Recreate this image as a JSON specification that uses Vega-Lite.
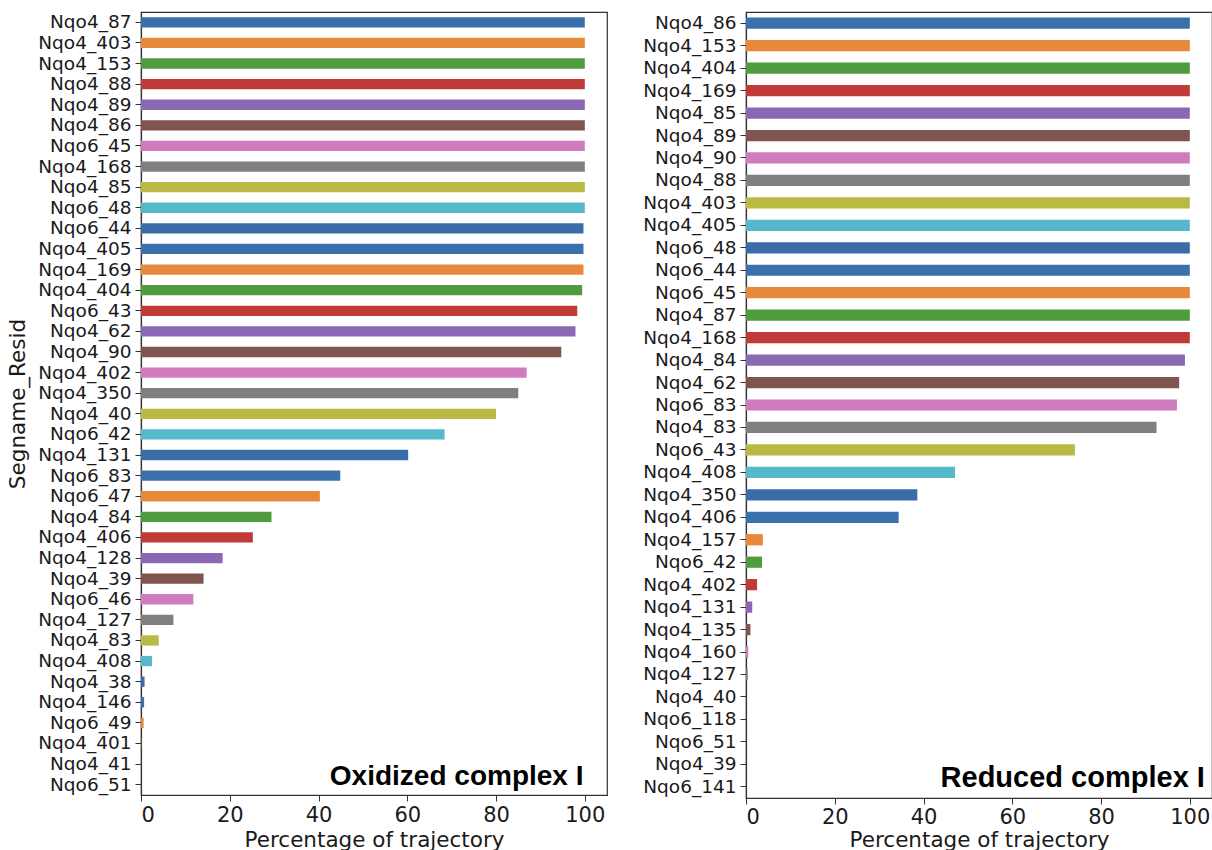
{
  "$schema": "https://vega.github.io/schema/vega-lite/v6.json",
  "padding": {"left": 7, "top": 11, "right": 0, "bottom": 0},
  "background": "white",
  "spacing": 34,
  "config": {
    "font": "DejaVu Sans",
    "view": {"stroke": "#333333", "strokeWidth": 1.2},
    "axis": {
      "domainColor": "#333333",
      "tickColor": "#333333",
      "labelColor": "#1a1a1a",
      "titleColor": "#1a1a1a",
      "titleFontWeight": "normal",
      "grid": false,
      "tickSize": 6,
      "labelPadding": 4,
      "domainWidth": 1.2
    }
  },
  "datasets": {
    "oxidized": [
      {"resid": "Nqo4_87", "pct": 100},
      {"resid": "Nqo4_403", "pct": 100},
      {"resid": "Nqo4_153", "pct": 100},
      {"resid": "Nqo4_88", "pct": 100},
      {"resid": "Nqo4_89", "pct": 100},
      {"resid": "Nqo4_86", "pct": 100},
      {"resid": "Nqo6_45", "pct": 100},
      {"resid": "Nqo4_168", "pct": 100},
      {"resid": "Nqo4_85", "pct": 100},
      {"resid": "Nqo6_48", "pct": 100},
      {"resid": "Nqo6_44", "pct": 99.7},
      {"resid": "Nqo4_405", "pct": 99.7},
      {"resid": "Nqo4_169", "pct": 99.7},
      {"resid": "Nqo4_404", "pct": 99.4},
      {"resid": "Nqo6_43", "pct": 98.3},
      {"resid": "Nqo4_62", "pct": 97.9},
      {"resid": "Nqo4_90", "pct": 94.7},
      {"resid": "Nqo4_402", "pct": 86.9},
      {"resid": "Nqo4_350", "pct": 85.0},
      {"resid": "Nqo4_40", "pct": 80.0},
      {"resid": "Nqo6_42", "pct": 68.4},
      {"resid": "Nqo4_131", "pct": 60.2},
      {"resid": "Nqo6_83", "pct": 44.9},
      {"resid": "Nqo6_47", "pct": 40.3},
      {"resid": "Nqo4_84", "pct": 29.4},
      {"resid": "Nqo4_406", "pct": 25.2},
      {"resid": "Nqo4_128", "pct": 18.4},
      {"resid": "Nqo4_39", "pct": 14.1},
      {"resid": "Nqo6_46", "pct": 11.8},
      {"resid": "Nqo4_127", "pct": 7.3},
      {"resid": "Nqo4_83", "pct": 4.0},
      {"resid": "Nqo4_408", "pct": 2.5},
      {"resid": "Nqo4_38", "pct": 0.8},
      {"resid": "Nqo4_146", "pct": 0.7},
      {"resid": "Nqo6_49", "pct": 0.6},
      {"resid": "Nqo4_401", "pct": 0.1},
      {"resid": "Nqo4_41", "pct": 0.05},
      {"resid": "Nqo6_51", "pct": 0.02}
    ],
    "reduced": [
      {"resid": "Nqo4_86", "pct": 100},
      {"resid": "Nqo4_153", "pct": 100},
      {"resid": "Nqo4_404", "pct": 100},
      {"resid": "Nqo4_169", "pct": 100},
      {"resid": "Nqo4_85", "pct": 100},
      {"resid": "Nqo4_89", "pct": 100},
      {"resid": "Nqo4_90", "pct": 100},
      {"resid": "Nqo4_88", "pct": 100},
      {"resid": "Nqo4_403", "pct": 100},
      {"resid": "Nqo4_405", "pct": 100},
      {"resid": "Nqo6_48", "pct": 100},
      {"resid": "Nqo6_44", "pct": 100},
      {"resid": "Nqo6_45", "pct": 100},
      {"resid": "Nqo4_87", "pct": 100},
      {"resid": "Nqo4_168", "pct": 100},
      {"resid": "Nqo4_84", "pct": 98.9},
      {"resid": "Nqo4_62", "pct": 97.6},
      {"resid": "Nqo6_83", "pct": 97.1},
      {"resid": "Nqo4_83", "pct": 92.5},
      {"resid": "Nqo6_43", "pct": 74.1},
      {"resid": "Nqo4_408", "pct": 47.1},
      {"resid": "Nqo4_350", "pct": 38.6},
      {"resid": "Nqo4_406", "pct": 34.4},
      {"resid": "Nqo4_157", "pct": 3.8},
      {"resid": "Nqo6_42", "pct": 3.6},
      {"resid": "Nqo4_402", "pct": 2.5},
      {"resid": "Nqo4_131", "pct": 1.4},
      {"resid": "Nqo4_135", "pct": 1.0},
      {"resid": "Nqo4_160", "pct": 0.5},
      {"resid": "Nqo4_127", "pct": 0.4},
      {"resid": "Nqo4_40", "pct": 0},
      {"resid": "Nqo6_118", "pct": 0},
      {"resid": "Nqo6_51", "pct": 0},
      {"resid": "Nqo4_39", "pct": 0},
      {"resid": "Nqo6_141", "pct": 0}
    ],
    "notes": [
      {"panel": "oxidized", "label": "Oxidized complex I"},
      {"panel": "reduced", "label": "Reduced complex I"}
    ]
  },
  "hconcat": [
    {
      "width": 466,
      "height": 783,
      "layer": [
        {
          "data": {"name": "oxidized"},
          "mark": {"type": "bar"},
          "encoding": {
            "y": {
              "field": "resid", "type": "nominal", "sort": null,
              "scale": {"paddingInner": 0.5, "paddingOuter": 0.25},
              "axis": {"title": "Segname_Resid", "labelFontSize": 18.5, "titleFontSize": 21.5, "titlePadding": 8}
            },
            "x": {
              "field": "pct", "type": "quantitative",
              "scale": {"domain": [0, 105], "nice": false},
              "axis": {"title": "Percentage of trajectory", "values": [0, 20, 40, 60, 80, 100], "labelFontSize": 21, "titleFontSize": 21.5, "labelPadding": 3, "titlePadding": 4}
            },
            "color": {
              "field": "resid", "type": "nominal", "legend": null,
              "scale": {
                "domain": ["Nqo4_87","Nqo4_403","Nqo4_153","Nqo4_88","Nqo4_89","Nqo4_86","Nqo6_45","Nqo4_168","Nqo4_85","Nqo6_48","Nqo6_44","Nqo4_405","Nqo4_169","Nqo4_404","Nqo6_43","Nqo4_62","Nqo4_90","Nqo4_402","Nqo4_350","Nqo4_40","Nqo6_42","Nqo4_131","Nqo6_83","Nqo6_47","Nqo4_84","Nqo4_406","Nqo4_128","Nqo4_39","Nqo6_46","Nqo4_127","Nqo4_83","Nqo4_408","Nqo4_38","Nqo4_146","Nqo6_49","Nqo4_401","Nqo4_41","Nqo6_51"],
                "range": ["#3a70ab","#e8883a","#4f9c3f","#c03a38","#8b68b3","#7f554d","#d07bbd","#7f7f7f","#b9ba44","#56b9c9","#3a6ca8"]
              }
            }
          }
        },
        {
          "data": {"name": "notes"},
          "transform": [{"filter": "datum.panel == 'oxidized'"}],
          "mark": {"type": "text", "font": "Liberation Sans", "fontWeight": "bold", "fontSize": 28, "align": "right", "baseline": "alphabetic", "color": "#000000"},
          "encoding": {
            "text": {"field": "label"},
            "x": {"datum": 99.7, "type": "quantitative"},
            "y": {"datum": "Nqo6_51", "type": "nominal"}
          }
        }
      ]
    },
    {
      "width": 466,
      "height": 786,
      "layer": [
        {
          "data": {"name": "reduced"},
          "mark": {"type": "bar"},
          "encoding": {
            "y": {
              "field": "resid", "type": "nominal", "sort": null,
              "scale": {"paddingInner": 0.5, "paddingOuter": 0.25},
              "axis": {"title": null, "labelFontSize": 18.5}
            },
            "x": {
              "field": "pct", "type": "quantitative",
              "scale": {"domain": [0, 105], "nice": false},
              "axis": {"title": "Percentage of trajectory", "values": [0, 20, 40, 60, 80, 100], "labelFontSize": 21, "titleFontSize": 21.5, "labelPadding": 2, "titlePadding": 2}
            },
            "color": {
              "field": "resid", "type": "nominal", "legend": null,
              "scale": {
                "domain": ["Nqo4_86","Nqo4_153","Nqo4_404","Nqo4_169","Nqo4_85","Nqo4_89","Nqo4_90","Nqo4_88","Nqo4_403","Nqo4_405","Nqo6_48","Nqo6_44","Nqo6_45","Nqo4_87","Nqo4_168","Nqo4_84","Nqo4_62","Nqo6_83","Nqo4_83","Nqo6_43","Nqo4_408","Nqo4_350","Nqo4_406","Nqo4_157","Nqo6_42","Nqo4_402","Nqo4_131","Nqo4_135","Nqo4_160","Nqo4_127","Nqo4_40","Nqo6_118","Nqo6_51","Nqo4_39","Nqo6_141"],
                "range": ["#3a70ab","#e8883a","#4f9c3f","#c03a38","#8b68b3","#7f554d","#d07bbd","#7f7f7f","#b9ba44","#56b9c9","#3a6ca8"]
              }
            }
          }
        },
        {
          "data": {"name": "notes"},
          "transform": [{"filter": "datum.panel == 'reduced'"}],
          "mark": {"type": "text", "font": "Liberation Sans", "fontWeight": "bold", "fontSize": 29, "align": "right", "baseline": "alphabetic", "color": "#000000"},
          "encoding": {
            "text": {"field": "label"},
            "x": {"datum": 103.4, "type": "quantitative"},
            "y": {"datum": "Nqo6_141", "type": "nominal"}
          }
        }
      ]
    }
  ],
  "resolve": {"scale": {"color": "independent", "x": "independent", "y": "independent"}}
}
